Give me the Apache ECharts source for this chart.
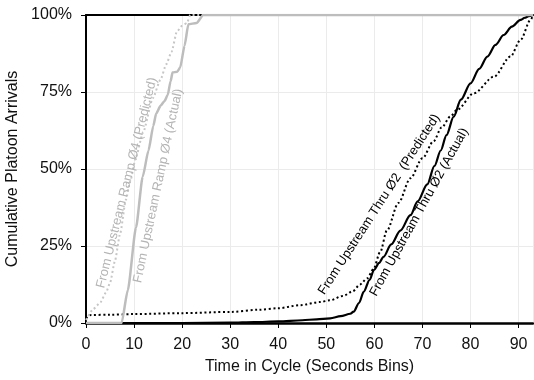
<!DOCTYPE html>
<html>
<head>
<meta charset="utf-8">
<script src="https://cdn.jsdelivr.net/npm/echarts@6/dist/echarts.min.js"></script>
<style>
  html, body { margin: 0; padding: 0; background: #fff; }
  #chart { width: 534px; height: 380px; }
</style>
</head>
<body>
<div id="chart"></div>
<script>
// 时间轴（秒）
const xTicks = [0, 10, 20, 30, 40, 50, 60, 70, 80, 90]
const yTicks = [0, 25, 50, 75, 100]

// Thru Ø2 actual
const thruActualX = [0, 10, 20, 30, 35, 40, 45, 48, 50.8, 53, 55, 55.7, 56.8, 57.8, 59, 59.9, 61, 61.9, 63.5, 65.4, 67.5, 69, 71, 72.5, 73.8, 75, 76.5, 78, 80, 81.8, 83.5, 85.2, 86.9, 88.6, 90.4, 91.3, 92.1, 93]
const thruActualY = [0, 0, 0, 0.1, 0.3, 0.5, 0.9, 1.2, 1.5, 2.2, 3.0, 3.7, 6.5, 10.2, 14, 17.2, 19.5, 21.5, 25.5, 30, 35, 39.5, 45, 51, 56, 61, 67, 72.5, 77.8, 82.5, 86.5, 90.3, 93.5, 96.2, 98.4, 99.1, 99.6, 100]

// Thru Ø2 predicted
const thruPredX = [0, 1, 5, 10, 20, 30, 36, 40, 44.6, 48.7, 50.8, 53.5, 55.5, 57, 58.5, 59.8, 61.2, 62.6, 65, 67.5, 70, 72.3, 74, 75.8, 77.2, 80.7, 84.9, 88.3, 90.4, 92.5, 93]
const thruPredY = [1.5, 2.6, 2.7, 2.9, 3.2, 3.6, 4.3, 4.8, 5.8, 6.8, 7.4, 8.8, 10.3, 12.5, 14.5, 17.5, 23, 30, 39, 47, 53.5, 59, 63.5, 67, 69.2, 74.6, 80, 86.5, 91.9, 98.4, 100]

// Ramp Ø4 actual
const rampActualX = [0, 7.4, 8.7, 10.4, 11.8, 13, 14, 14.6, 15.5, 16.3, 17, 17.6, 18, 19, 19.6, 20.5, 21.3, 23, 24.4, 93]
const rampActualY = [0, 0, 10.7, 31, 47.5, 56, 64, 68, 70.5, 72, 74, 78.5, 81.3, 81.6, 83, 90, 97, 97.4, 100, 100]

// Ramp Ø4 predicted
const rampPredX = [0, 1.5, 2.9, 4.2, 5, 6, 7.1, 8.3, 9.2, 10.4, 11.9, 13.9, 15.5, 16.7, 17.8, 18.9, 20, 21, 21.7, 93]
const rampPredY = [1, 4.5, 6.5, 10, 13, 20, 29, 40, 46, 54, 62, 73, 79, 84, 88, 94.6, 96.5, 97.4, 100, 100]

// 曲线旁的标注（数据坐标 + 角度）
const labelTexts = [
  'From Upstream Ramp Ø4 (Predicted)',
  'From Upstream Ramp Ø4 (Actual)',
  'From Upstream Thru Ø2  (Predicted)',
  'From Upstream Thru Ø2 (Actual)'
]
const labelX = [8.5, 15, 61, 69.3]
const labelY = [45.5, 44.5, 38.5, 36]
const labelAngle = [76, 78, 57, 61]
const labelColor = ['#b4b4b4', '#b4b4b4', '#000', '#000']

const pairs = (xs, ys) => xs.map((x, i) => [x, ys[i]])

const chart = echarts.init(document.getElementById('chart'))
const font = '"Liberation Sans", Arial, sans-serif'

const option = {
  animation: false,
  grid: { left: 86, right: 1, top: 15, bottom: 57, containLabel: false, outerBoundsMode: 'none' },
  xAxis: [{
    type: 'value',
    min: 0,
    max: 93,
    interval: 10,
    name: 'Time in Cycle (Seconds Bins)',
    nameLocation: 'middle',
    nameGap: 36,
    nameTextStyle: { fontFamily: font, fontSize: 16, color: '#111' },
    axisLine: { lineStyle: { color: '#000', width: 2.5 } },
    axisTick: { show: true, inside: false, length: 5, lineStyle: { color: '#000', width: 1 } },
    axisLabel: {
      fontFamily: font, fontSize: 16, color: '#111', margin: 14,
      showMaxLabel: false,
      formatter: v => (xTicks.includes(v) ? String(v) : '')
    },
    splitLine: { show: true, lineStyle: { color: '#ebebeb', width: 1 } }
  }, {
    type: 'value',
    position: 'top',
    min: 0,
    max: 93,
    axisLine: { show: true, lineStyle: { color: '#000', width: 2 } },
    axisTick: { show: false },
    axisLabel: { show: false },
    splitLine: { show: false }
  }],
  yAxis: {
    type: 'value',
    min: 0,
    max: 100,
    interval: 25,
    name: 'Cumulative Platoon Arrivals',
    nameLocation: 'middle',
    nameGap: 55,
    nameTextStyle: { fontFamily: font, fontSize: 16, color: '#111' },
    axisLine: { show: true, lineStyle: { color: '#000', width: 2 } },
    axisTick: { show: true, inside: false, length: 5, lineStyle: { color: '#000', width: 1 } },
    axisLabel: {
      fontFamily: font, fontSize: 16, color: '#111', margin: 14,
      formatter: v => (yTicks.includes(v) ? v + '%' : '')
    },
    splitLine: { show: true, lineStyle: { color: '#ebebeb', width: 1 } }
  },
  series: [
    {
      name: 'Thru Ø2 (Predicted)',
      type: 'line',
      data: pairs(thruPredX, thruPredY),
      showSymbol: false,
      smooth: 0.3,
      smoothMonotone: 'x',
      lineStyle: { color: '#000', width: 2, type: [2, 2.6] },
      z: 3
    },
    {
      name: 'Thru Ø2 (Actual)',
      type: 'line',
      data: pairs(thruActualX, thruActualY),
      showSymbol: false,
      smooth: 0.3,
      smoothMonotone: 'x',
      lineStyle: { color: '#000', width: 2.2 },
      z: 3
    },
    {
      name: 'Ramp Ø4 (Predicted)',
      type: 'line',
      data: pairs(rampPredX, rampPredY),
      showSymbol: false,
      smooth: 0.2,
      smoothMonotone: 'x',
      lineStyle: { color: '#c6c6c6', width: 2, type: [2, 2.6] },
      z: 4
    },
    {
      name: 'Ramp Ø4 (Actual)',
      type: 'line',
      data: pairs(rampActualX, rampActualY),
      showSymbol: false,
      smooth: 0.2,
      smoothMonotone: 'x',
      lineStyle: { color: '#bdbdbd', width: 2.5 },
      z: 4
    }
  ]
}

chart.setOption(option)

// 把标注放到曲线旁边
const graphics = labelTexts.map((text, i) => {
  const p = chart.convertToPixel({ gridIndex: 0 }, [labelX[i], labelY[i]])
  return {
    type: 'text',
    x: p[0],
    y: p[1],
    rotation: labelAngle[i] * Math.PI / 180,
    z: 10,
    style: {
      text: text,
      fill: labelColor[i],
      font: '13px ' + font,
      align: 'center',
      verticalAlign: 'middle'
    }
  }
})
chart.setOption({ graphic: graphics })
</script>
</body>
</html>
